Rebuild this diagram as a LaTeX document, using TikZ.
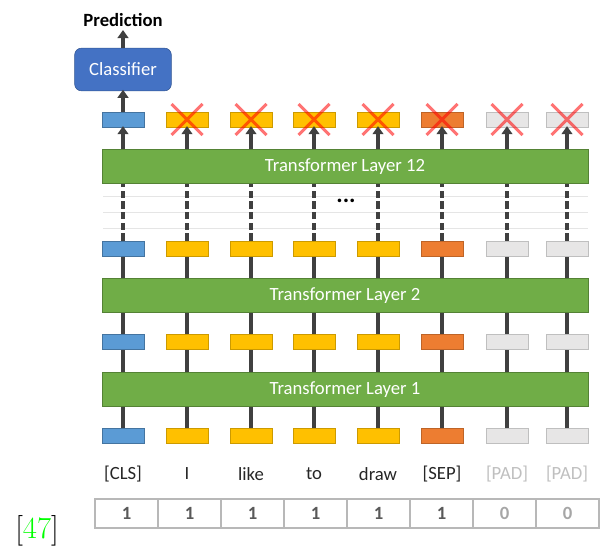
\documentclass[tikz,border=0pt]{standalone}
\usepackage{fontspec}
\newfontfamily\calibri{Carlito}
\usepackage{tikz}
\usetikzlibrary{arrows.meta}
\definecolor{clsblue}{HTML}{5B9BD5}
\definecolor{tokyellow}{HTML}{FFC000}
\definecolor{seporange}{HTML}{ED7D31}
\definecolor{padgray}{HTML}{E7E6E6}
\definecolor{layergreen}{HTML}{70AD47}
\definecolor{clfblue}{HTML}{4472C4}
\definecolor{linegray}{HTML}{404040}
\tikzset{%
  tok/.style={draw, minimum width=31.5pt, minimum height=11.5pt, inner sep=0pt, line width=0.5pt},
  clsbox/.style={fill=clsblue, draw=clsblue!75!black},
  wordbox/.style={fill=tokyellow, draw=tokyellow!80!black},
  sepbox/.style={fill=seporange, draw=seporange!80!black},
  padbox/.style={fill=padgray, draw=black!25},
  layer/.style={draw=layergreen!75!black, fill=layergreen, text=white, minimum width=364.5pt,
    minimum height=25.5pt, font=\calibri\fontsize{14}{16}\selectfont},
  clfnode/.style={draw=clfblue!75!black, fill=clfblue, text=white, rounded corners=5pt,
    minimum width=72.5pt, minimum height=32pt, font=\calibri\fontsize{14}{16}\selectfont},
  myline/.style={line width=2.7pt, draw=linegray},
  mydash/.style={myline, dash pattern=on 5.5pt off 2.5pt},
  myedge/.style={myline, ->, >={Triangle[width=8pt,length=6pt]}, shorten >=-1pt},
  cross/.style={draw=red, opacity=0.55, line width=2.3pt},
  word/.style={font=\calibri\fontsize{14}{16}\selectfont, text=black!85},
  cell/.style={draw=black!28, line width=0.8pt, minimum width=47.25pt, minimum height=21.75pt,
    font=\calibri\bfseries\fontsize{14}{16}\selectfont}
}
\begin{document}
\begin{tikzpicture}[x=0.75pt, y=-0.75pt]
  \useasboundingbox (0,0) rectangle (600,546);
  % transformer stack
  \node[layer] (L1) at (345,389.5) {Transformer Layer 1};
  \node[layer] (L2) at (345,295.5) {Transformer Layer 2};
  \node[layer] (L12) at (345,166.5) {Transformer Layer 12};
  % faint lines in the gap
  \foreach \y in {196,212,228}
    \draw[black!10, line width=0.6pt] (103,\y) -- (588,\y);
  \node[font=\calibri\bfseries\fontsize{18}{18}\selectfont] (dots) at (346,201) {...};
  % token columns
  \foreach \i/\x/\s in {1/123/clsbox,2/187/wordbox,3/251/wordbox,4/314/wordbox,
                        5/378/wordbox,6/442/sepbox,7/507/padbox,8/567/padbox}{
    \node[tok,\s] (a\i) at (\x,436) {};
    \node[tok,\s] (b\i) at (\x,342) {};
    \node[tok,\s] (c\i) at (\x,248.5) {};
    \node[tok,\s] (d\i) at (\x,119.5) {};
    \draw[myline] (a\i.north) -- (a\i.north |- L1.south);
    \draw[myline] (L1.north -| b\i.south) -- (b\i.south);
    \draw[myline] (b\i.north) -- (b\i.north |- L2.south);
    \draw[myline] (L2.north -| c\i.south) -- (c\i.south);
    \draw[mydash] (c\i.north) -- (c\i.north |- L12.south);
    \draw[myedge] (L12.north -| d\i.south) -- (d\i.south);
  }
  % dropped outputs
  \foreach \i in {2,...,8}
    \draw[cross] (d\i.center) ++(-15.5,-15.5) -- ++(31,31) ++(0,-31) -- ++(-31,31);
  % classification head
  \node[clfnode] (clf) at (123,69.5) {Classifier};
  \node[font=\calibri\bfseries\fontsize{14}{16}\selectfont] (pred) at (123,20) {Prediction};
  \draw[myedge] (d1.north) -- (clf.south);
  \draw[myedge] (clf.north) -- (pred.south);
  % input tokens
  \foreach \i/\x/\t in {1/123/{[CLS]},2/187/I,3/251/like,4/314/to,5/378/draw,6/442/{[SEP]}}
    \node[word] (w\i) at (\x,474) {\t};
  \node[word, text=black!25] (w7) at (507,474) {[PAD]};
  \node[word, text=black!25] (w8) at (567,474) {[PAD]};
  % attention mask
  \foreach \i/\x/\v in {1/126.5/1,2/189.5/1,3/252.5/1,4/315.5/1,5/378.5/1,6/441.5/1}
    \node[cell, text=black!65] (m\i) at (\x,513.5) {\v};
  \node[cell, text=black!35] (m7) at (504.5,513.5) {0};
  \node[cell, text=black!35] (m8) at (567.5,513.5) {0};
  \node[font=\fontsize{23}{23}\selectfont] (ref) at (37,531) {[\textcolor{green}{47}]};
\end{tikzpicture}
\end{document}
